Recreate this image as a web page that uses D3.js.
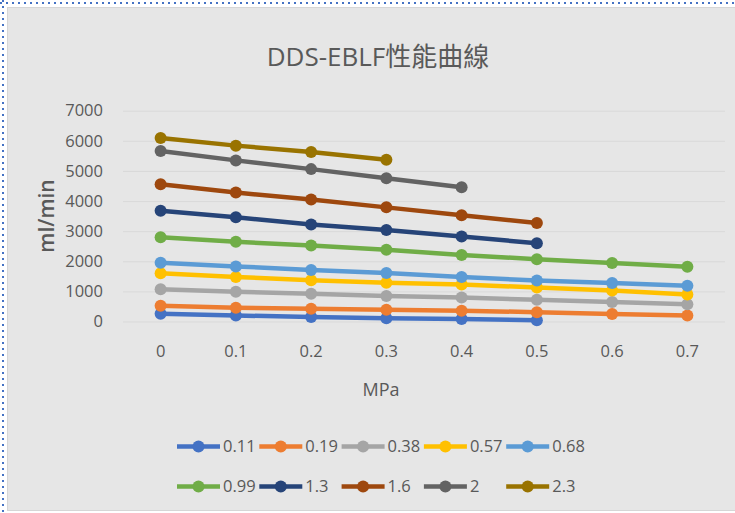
<!DOCTYPE html>
<html>
<head>
<meta charset="utf-8">
<script src="https://cdn.jsdelivr.net/npm/d3@7"></script>
<style>
  body { margin: 0; background: #fff; }
  svg text { font-family: "Open Sans", "Noto Sans CJK TC", sans-serif; fill: #595959; }
</style>
</head>
<body>
<div id="chart"></div>
<script>
// categories on the x axis (MPa)
const pressures = ["0", "0.1", "0.2", "0.3", "0.4", "0.5", "0.6", "0.7"];

// one curve per nozzle size, values in ml/min
const seriesNames = ["0.11", "0.19", "0.38", "0.57", "0.68", "0.99", "1.3", "1.6", "2", "2.3"];
const s011 = [260, 200, 150, 110, 80, 40];
const s019 = [520, 460, 420, 390, 360, 310, 250, 200];
const s038 = [1070, 990, 920, 850, 800, 720, 650, 570];
const s057 = [1600, 1480, 1370, 1290, 1230, 1130, 1030, 900];
const s068 = [1950, 1830, 1710, 1610, 1480, 1360, 1280, 1190];
const s099 = [2800, 2650, 2520, 2380, 2210, 2070, 1940, 1820];
const s13 = [3680, 3460, 3220, 3040, 2820, 2600];
const s16 = [4560, 4280, 4050, 3790, 3530, 3270];
const s2 = [5660, 5350, 5060, 4760, 4460];
const s23 = [6090, 5840, 5630, 5370];
const seriesValues = [s011, s019, s038, s057, s068, s099, s13, s16, s2, s23];

const colors = ["#4472C4", "#ED7D31", "#A5A5A5", "#FFC000", "#5B9BD5",
                "#70AD47", "#264478", "#9E480E", "#636363", "#997300"];

const yTicks = [0, 1000, 2000, 3000, 4000, 5000, 6000, 7000];

const W = 735, H = 513;
const plot = { left: 123, right: 725, top: 110.7, bottom: 321.5 };

const svg = d3.select("#chart").append("svg")
  .attr("width", W).attr("height", H);

// chart area
svg.append("rect")
  .attr("x", 7.5).attr("y", 7.5)
  .attr("width", W - 7).attr("height", 503)
  .attr("fill", "#e6e6e6")
  .attr("stroke", "#d6d6d6").attr("stroke-width", 1);

// dotted selection frame
svg.append("line")
  .attr("x1", 3).attr("x2", 3).attr("y1", 0).attr("y2", H)
  .attr("stroke", "#4472C4").attr("stroke-width", 2).attr("stroke-dasharray", "2,4");
svg.append("line")
  .attr("x1", 0).attr("x2", W).attr("y1", 3).attr("y2", 3)
  .attr("stroke", "#4472C4").attr("stroke-width", 2).attr("stroke-dasharray", "2,4");

// title
svg.append("text")
  .attr("x", 378).attr("y", 66)
  .attr("text-anchor", "middle")
  .style("font-size", "26px")
  .text("DDS-EBLF性能曲線");

const x = d3.scaleBand().domain(pressures).range([plot.left, plot.right]);
const y = d3.scaleLinear().domain([0, 7000]).range([plot.bottom, plot.top]);

// gridlines + y labels
const yAxis = svg.append("g")
  .attr("transform", `translate(${plot.left},0)`)
  .call(d3.axisLeft(y).tickValues(yTicks).tickFormat(d3.format("d"))
    .tickSize(-(plot.right - plot.left)).tickPadding(20));
yAxis.select(".domain").remove();
yAxis.selectAll(".tick line").attr("stroke", "#d9d9d9");
yAxis.selectAll(".tick text").style("font-size", "16.5px");

// x labels
const xAxis = svg.append("g")
  .attr("transform", `translate(0,${plot.bottom})`)
  .call(d3.axisBottom(x).tickSize(0).tickPadding(24));
xAxis.select(".domain").remove();
xAxis.selectAll(".tick text").style("font-size", "16.5px");

// axis titles
svg.append("text")
  .attr("x", 381).attr("y", 396)
  .attr("text-anchor", "middle")
  .style("font-size", "18px")
  .text("MPa");

svg.append("text")
  .attr("transform", "translate(54,216) rotate(-90)")
  .attr("text-anchor", "middle")
  .style("font-size", "21px")
  .style("font-weight", "600")
  .text("ml/min");

// curves
const line = d3.line()
  .x((d, i) => x(pressures[i]) + x.bandwidth() / 2)
  .y(d => y(d));

const series = svg.append("g").selectAll("g")
  .data(seriesValues)
  .join("g");

series.append("path")
  .attr("d", d => line(d))
  .attr("fill", "none")
  .attr("stroke", (d, i) => colors[i])
  .attr("stroke-width", 4.5)
  .attr("stroke-linejoin", "round");

series.each(function (vals, si) {
  d3.select(this).selectAll("circle")
    .data(vals)
    .join("circle")
    .attr("cx", (d, i) => x(pressures[i]) + x.bandwidth() / 2)
    .attr("cy", d => y(d))
    .attr("r", 6)
    .attr("fill", colors[si]);
});

// legend, two rows of five
const legend = svg.append("g");
seriesNames.forEach((name, i) => {
  const col = i % 5, row = Math.floor(i / 5);
  const lx = 177 + col * 82.3, ly = 446.5 + row * 40;
  const g = legend.append("g").attr("transform", `translate(${lx},${ly})`);
  g.append("line")
    .attr("x1", 0).attr("x2", 43)
    .attr("stroke", colors[i]).attr("stroke-width", 4.5);
  g.append("circle").attr("cx", 21.5).attr("r", 6).attr("fill", colors[i]);
  g.append("text")
    .attr("x", 46).attr("dy", "0.35em")
    .style("font-size", "16.5px")
    .text(name);
});
</script>
</body>
</html>
